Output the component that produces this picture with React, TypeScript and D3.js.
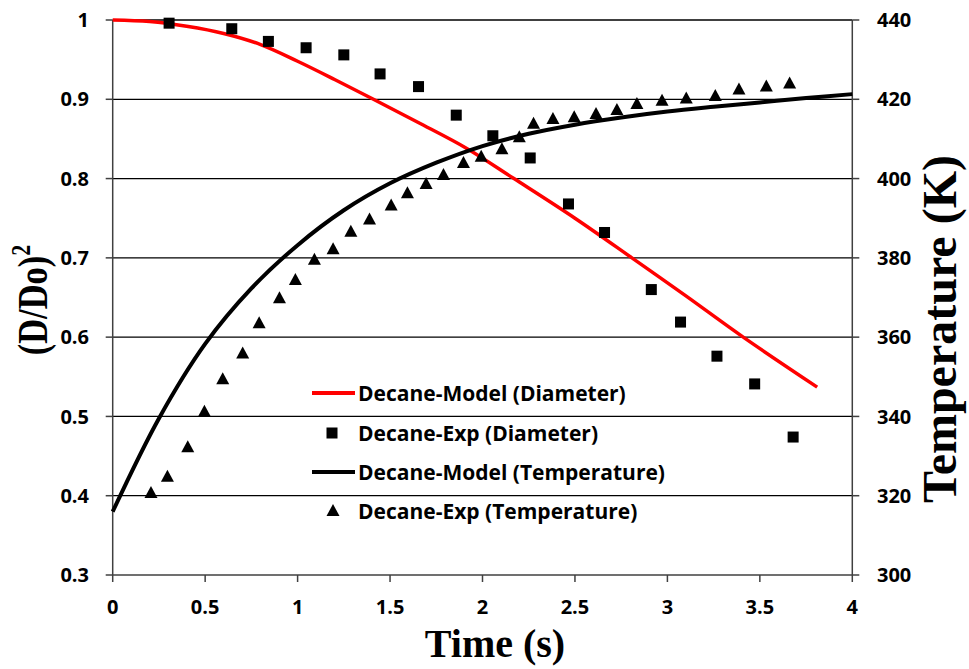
import React from "react";
import * as d3 from "d3";

// ---- data ----
const xTicks = [0, 0.5, 1, 1.5, 2, 2.5, 3, 3.5, 4];
const xTickLabels = ["0", "0.5", "1", "1.5", "2", "2.5", "3", "3.5", "4"];
const yLeftTicks = [0.3, 0.4, 0.5, 0.6, 0.7, 0.8, 0.9, 1];
const yLeftTickLabels = ["0.3", "0.4", "0.5", "0.6", "0.7", "0.8", "0.9", "1"];
const yRightTicks = [300, 320, 340, 360, 380, 400, 420, 440];

// Decane model (diameter): (D/Do)^2 vs time
const modelDiamT = [0, 0.2, 0.4, 0.6, 0.8, 1.0, 1.2, 1.41, 1.65, 1.915, 2.17, 2.5, 2.808, 3.1, 3.41, 3.81];
const modelDiamV = [1.0, 0.998, 0.992, 0.983, 0.969, 0.948, 0.925, 0.9, 0.871, 0.838, 0.8, 0.75, 0.7, 0.652, 0.6, 0.537];

// Decane experiment (diameter)
const expDiamT = [0.305, 0.644, 0.842, 1.046, 1.25, 1.446, 1.654, 1.858, 2.056, 2.258, 2.465, 2.66, 2.913, 3.071, 3.268, 3.472, 3.68];
const expDiamV = [0.996, 0.989, 0.973, 0.965, 0.956, 0.932, 0.916, 0.88, 0.854, 0.826, 0.768, 0.732, 0.66, 0.619, 0.576, 0.541, 0.474];

// Decane model (temperature), K
const modelTempT = [0, 0.25, 0.5, 0.75, 1.0, 1.25, 1.5, 1.75, 2.0, 2.25, 2.5, 2.75, 3.0, 3.25, 3.5, 3.75, 4.0];
const modelTempV = [316, 339.5, 358.3, 372.3, 383.2, 392.0, 398.8, 404.0, 408.2, 411.3, 413.6, 415.4, 416.9, 418.1, 419.2, 420.3, 421.3];

// Decane experiment (temperature), K
const expTempT = [0.207, 0.296, 0.406, 0.496, 0.595, 0.703, 0.792, 0.902, 0.988, 1.091, 1.192, 1.288, 1.389, 1.506, 1.594, 1.695, 1.789, 1.897, 1.993, 2.105, 2.199, 2.276, 2.381, 2.496, 2.614, 2.727, 2.835, 2.971, 3.102, 3.259, 3.387, 3.535, 3.661];
const expTempV = [320.7, 324.8, 332.2, 341.2, 349.4, 355.9, 363.5, 369.8, 374.4, 379.5, 382.2, 386.6, 389.7, 393.2, 396.3, 398.6, 400.9, 403.9, 405.5, 407.4, 410.4, 413.8, 415.0, 415.5, 416.3, 417.3, 418.8, 419.6, 420.2, 420.8, 422.5, 423.2, 424.0];

const legendLabels = [
  "Decane-Model (Diameter)",
  "Decane-Exp (Diameter)",
  "Decane-Model (Temperature)",
  "Decane-Exp (Temperature)",
];

const W = 969;
const H = 669;
const M = { left: 112.7, right: 852.3, top: 20, bottom: 575 };

export default function App() {
  const x = d3.scaleLinear().domain([0, 4]).range([M.left, M.right]);
  const yL = d3.scaleLinear().domain([0.3, 1]).range([M.bottom, M.top]);
  const yR = d3.scaleLinear().domain([300, 440]).range([M.bottom, M.top]);

  const lineD = d3
    .line<number>()
    .x((_, i) => x(modelDiamT[i]))
    .y((v) => yL(v))
    .curve(d3.curveCatmullRom.alpha(0.5));
  const lineT = d3
    .line<number>()
    .x((_, i) => x(modelTempT[i]))
    .y((v) => yR(v))
    .curve(d3.curveCatmullRom.alpha(0.5));

  const tri = (cx: number, cy: number) =>
    `M${cx},${cy - 7}L${cx + 6.5},${cy + 5}L${cx - 6.5},${cy + 5}Z`;

  const tickFont = "'Open Sans', 'DejaVu Sans', sans-serif";
  const serif = "'Liberation Serif', 'DejaVu Serif', serif";
  const axisColor = "#404040";
  const legendX = 312;
  const legendY = [393, 433, 472, 511];

  return (
    <svg width={W} height={H} style={{ position: "absolute", left: 0, top: 0, background: "#fff" }}>
      {/* gridlines */}
      {yLeftTicks.filter((t) => t > 0.3).map((t) => (
        <line key={"g" + t} x1={M.left} x2={M.right} y1={yL(t)} y2={yL(t)} stroke="#000" strokeWidth={1.3} />
      ))}
      {/* axes */}
      <line x1={M.left} x2={M.right} y1={M.bottom} y2={M.bottom} stroke={axisColor} strokeWidth={1.5} />
      <line x1={M.left} x2={M.left} y1={M.top} y2={M.bottom} stroke={axisColor} strokeWidth={1.5} />
      <line x1={M.right} x2={M.right} y1={M.top} y2={M.bottom} stroke={axisColor} strokeWidth={1.5} />
      {/* left ticks */}
      {yLeftTicks.map((t, i) => (
        <g key={"yl" + t}>
          <line x1={M.left - 7} x2={M.left} y1={yL(t)} y2={yL(t)} stroke={axisColor} strokeWidth={1.5} />
          <text x={89} y={yL(t)} dy="0.36em" textAnchor="end" fontFamily={tickFont} fontWeight="bold" fontSize={20}>
            {yLeftTickLabels[i]}
          </text>
        </g>
      ))}
      {/* right ticks */}
      {yRightTicks.map((t) => (
        <g key={"yr" + t}>
          <line x1={M.right} x2={M.right + 7} y1={yR(t)} y2={yR(t)} stroke={axisColor} strokeWidth={1.5} />
          <text x={877} y={yR(t)} dy="0.36em" textAnchor="start" fontFamily={tickFont} fontWeight="bold" fontSize={20}>
            {t}
          </text>
        </g>
      ))}
      {/* x ticks */}
      {xTicks.map((t, i) => (
        <g key={"x" + t}>
          <line x1={x(t)} x2={x(t)} y1={M.bottom} y2={M.bottom + 7} stroke={axisColor} strokeWidth={1.5} />
          <text x={x(t)} y={614} textAnchor="middle" fontFamily={tickFont} fontWeight="bold" fontSize={20}>
            {xTickLabels[i]}
          </text>
        </g>
      ))}

      {/* model lines */}
      <path d={lineD(modelDiamV) || ""} fill="none" stroke="#ff0000" strokeWidth={3.5} />
      <path d={lineT(modelTempV) || ""} fill="none" stroke="#000" strokeWidth={4} />

      {/* exp markers */}
      {expDiamV.map((v, i) => (
        <rect key={"s" + i} x={x(expDiamT[i]) - 5.5} y={yL(v) - 5.5} width={11} height={11} fill="#000" />
      ))}
      {expTempV.map((v, i) => (
        <path key={"t" + i} d={tri(x(expTempT[i]), yR(v))} fill="#000" />
      ))}

      {/* legend */}
      <line x1={legendX} x2={legendX + 43} y1={legendY[0]} y2={legendY[0]} stroke="#ff0000" strokeWidth={4} />
      <rect x={332 - 5.5} y={legendY[1] - 5.5} width={11} height={11} fill="#000" />
      <line x1={legendX} x2={legendX + 43} y1={legendY[2]} y2={legendY[2]} stroke="#000" strokeWidth={4} />
      <path d={tri(333, legendY[3])} fill="#000" />
      {legendLabels.map((l, i) => (
        <text key={l} x={358} y={legendY[i]} dy="0.36em" fontFamily={tickFont} fontWeight="bold" fontSize={21}>
          {l}
        </text>
      ))}

      {/* axis titles */}
      <text x={495} y={657} textAnchor="middle" fontFamily={serif} fontWeight="bold" fontSize={40}>
        Time (s)
      </text>
      <text
        transform={`translate(47,300) rotate(-90) scale(0.82,1)`}
        textAnchor="middle"
        fontFamily={serif}
        fontWeight="bold"
        fontSize={42}
      >
        (D/Do)<tspan dy={-17} fontSize={27}>2</tspan>
      </text>
      <text
        transform={`translate(956,329) rotate(-90)`}
        textAnchor="middle"
        fontFamily={serif}
        fontWeight="bold"
        fontSize={48}
      >
        Temperature (K)
      </text>
    </svg>
  );
}
